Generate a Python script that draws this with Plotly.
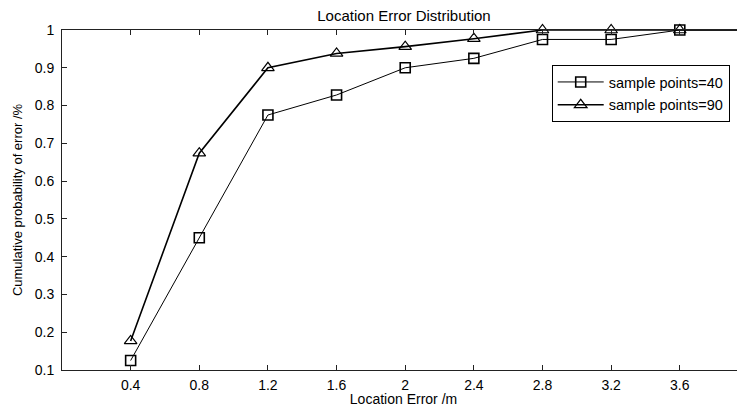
import plotly.graph_objects as go

location_error = [0.4, 0.8, 1.2, 1.6, 2.0, 2.4, 2.8, 3.2, 3.6, 4.0]
prob_40 = [0.125, 0.45, 0.775, 0.828, 0.90, 0.925, 0.975, 0.975, 1.0, 1.0]
prob_90 = [0.177, 0.674, 0.90, 0.938, 0.956, 0.977, 1.0, 1.0, 1.0, 1.0]
x_ticks = [0.4, 0.8, 1.2, 1.6, 2.0, 2.4, 2.8, 3.2, 3.6]
x_tick_text = ["0.4", "0.8", "1.2", "1.6", "2", "2.4", "2.8", "3.2", "3.6"]
y_ticks = [0.1, 0.2, 0.3, 0.4, 0.5, 0.6, 0.7, 0.8, 0.9, 1.0]
y_tick_text = ["0.1", "0.2", "0.3", "0.4", "0.5", "0.6", "0.7", "0.8", "0.9", "1"]

FONT = "Liberation Sans, Arial, sans-serif"
# page has an 8px body margin; figure is sized/placed to compensate
W, H = 737, 399
L, R, T, B = 54, 0, 22, 37

fig = go.Figure()
fig.add_trace(go.Scatter(
    x=location_error, y=prob_40, mode="lines+markers", name="sample points=40",
    legendgroup="a",
    line=dict(color="black", width=1),
    marker=dict(symbol="square-open", size=10, color="black", line=dict(width=1.6)),
    cliponaxis=False,
))
fig.add_trace(go.Scatter(
    x=location_error, y=prob_90, mode="lines+markers", name="sample points=90",
    legendgroup="b",
    line=dict(color="black", width=1.6),
    marker=dict(symbol="triangle-up-open", size=11, color="black", line=dict(width=1.2)),
    cliponaxis=False,
))

fig.update_layout(
    width=W, height=H,
    margin=dict(l=L, r=R, t=T, b=B),
    paper_bgcolor="white", plot_bgcolor="white",
    font=dict(family=FONT, size=14, color="black"),
    title=dict(text="Location Error Distribution", x=396 / W, xanchor="center",
               y=1 - 7.5 / H, yanchor="middle", font=dict(size=15, family=FONT, color="black")),
    showlegend=True,
    legend=dict(x=0.717, y=0.897, xanchor="left", yanchor="top",
                bordercolor="black", borderwidth=1, bgcolor="white",
                font=dict(size=14.5, family=FONT, color="black"),
                itemwidth=46,
                traceorder="grouped", tracegroupgap=1),
    xaxis=dict(range=[0, 3.98], tickvals=x_ticks, ticktext=x_tick_text,
               ticks="inside", ticklen=5, tickcolor="#222", showline=True,
               linecolor="#222", linewidth=1, mirror="ticks", showgrid=False,
               zeroline=False, tickfont=dict(size=14), ticklabelstandoff=2,
               automargin=False,
               title=dict(text="Location Error /m", font=dict(size=14), standoff=2)),
    yaxis=dict(range=[0.1, 1.0], tickvals=y_ticks, ticktext=y_tick_text,
               ticks="inside", ticklen=5, tickcolor="#222", showline=True,
               linecolor="#222", linewidth=1, mirror="ticks", showgrid=False,
               zeroline=False, tickfont=dict(size=14), ticklabelstandoff=4,
               automargin=False,
               title=dict(text="Cumulative probability of error /%", font=dict(size=13), standoff=9)),
)

fig.add_annotation(text="4", xref="paper", yref="paper", x=(748 - 62) / (W - L - R), y=0,
                   xanchor="center", yanchor="top", yshift=-3, showarrow=False,
                   font=dict(size=14, family=FONT, color="black"))

fig.write_html("out.html")
